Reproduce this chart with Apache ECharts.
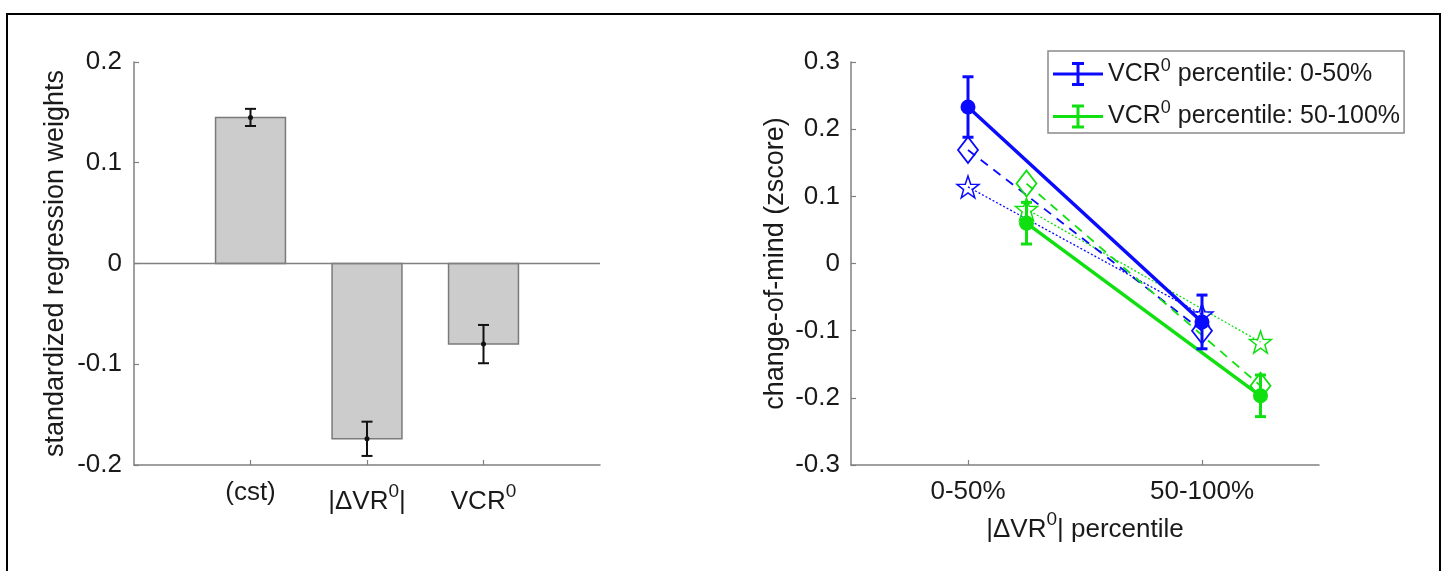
<!DOCTYPE html>
<html><head><meta charset="utf-8">
<script src="https://cdn.jsdelivr.net/npm/echarts@6/dist/echarts.min.js"></script>
<style>html,body{margin:0;padding:0;background:#fff}#c{width:1445px;height:571px}</style>
</head><body><div id="c"></div>
<script>
// ---------- data ----------
const barCategories = ['(cst)', '|\u0394VR^0|', 'VCR^0'];
const barPositions = [1, 2, 3];
const barValues = [0.145, -0.174, -0.080];
const barErrors = [0.0085, 0.017, 0.019];
const leftYTicks = [-0.2, -0.1, 0, 0.1, 0.2];

const rightCategories = ['0-50%', '50-100%'];
const rightCategoryPositions = [1, 2];
const rightYTicks = [-0.3, -0.2, -0.1, 0, 0.1, 0.2, 0.3];
const lowVcrX = [1, 2];
const highVcrX = [1.25, 2.25];
const lowVcrMean = [0.233, -0.087];
const lowVcrErr = [0.045, 0.040];
const lowVcrDiamond = [0.169, -0.100];
const lowVcrStar = [0.114, -0.076];
const highVcrMean = [0.060, -0.197];
const highVcrErr = [0.031, 0.031];
const highVcrDiamond = [0.119, -0.182];
const highVcrStar = [0.081, -0.117];
const legendNames = ['VCR^0 percentile: 0-50%', 'VCR^0 percentile: 50-100%'];
const leftYName = 'standardized regression weights';
const rightYName = 'change-of-mind (zscore)';
const rightXName = '|\u0394VR^0| percentile';

// ---------- style ----------
const FONT = "'Liberation Sans', Arial, sans-serif";
const TXT = '#1a1a1a';
const AX = '#808080';
const BLUE = '#0a0aff';
const GREEN = '#10e010';
const STAR = 'path://M0,-10 L2.35,-3.24 9.51,-3.09 3.80,1.24 5.88,8.09 0,4 -5.88,8.09 -3.80,1.24 -9.51,-3.09 -2.35,-3.24 Z';
const ERRICON = 'path://M0,10.5 H50 V13.5 H0 Z M23.5,0 H26.5 V24 H23.5 Z M19,0 H31 V3 H19 Z M19,21 H31 V24 H19 Z';

function tex(str) {
  if (str.indexOf('^0') < 0) return '{p|' + str + '}';
  return str.split('^0').map(s => '{n|' + s + '}').join('{s|0}');
}
function richFor(size, lh, supSize, supLh) {
  return {
    n: {fontSize: size, fontFamily: FONT, color: TXT, lineHeight: lh},
    p: {fontSize: size, fontFamily: FONT, color: TXT, lineHeight: 22},
    s: {fontSize: supSize, fontFamily: FONT, color: TXT, lineHeight: supLh, verticalAlign: 'top'}
  };
}
const zip = (xs, ys) => xs.map((x, i) => [x, ys[i]]);
const zip3 = (xs, ys, es) => xs.map((x, i) => [x, ys[i], es[i]]);

function errRender(capHalf, lw, color, dot) {
  return function (params, api) {
    const x = api.value(0), y = api.value(1), e = api.value(2);
    const t = api.coord([x, y + e]), b = api.coord([x, y - e]), c = api.coord([x, y]);
    const st = {stroke: color, lineWidth: lw, fill: null};
    const ch = [
      {type: 'line', shape: {x1: t[0], y1: t[1], x2: b[0], y2: b[1]}, style: st},
      {type: 'line', shape: {x1: t[0] - capHalf, y1: t[1], x2: t[0] + capHalf, y2: t[1]}, style: st},
      {type: 'line', shape: {x1: b[0] - capHalf, y1: b[1], x2: b[0] + capHalf, y2: b[1]}, style: st}
    ];
    if (dot) ch.push({type: 'circle', shape: {cx: c[0], cy: c[1], r: 2.5}, style: {fill: color}});
    return {type: 'group', children: ch};
  };
}
function barRender(params, api) {
  const x = api.value(0), v = api.value(1);
  const p0 = api.coord([x - 0.3, v]), p1 = api.coord([x + 0.3, 0]);
  return {type: 'rect', shape: {x: p0[0], y: Math.min(p0[1], p1[1]), width: p1[0] - p0[0], height: Math.abs(p1[1] - p0[1])},
    style: {fill: '#cccccc', stroke: '#7a7a7a', lineWidth: 1.5}};
}
const axisLineStyle = {show: true, onZero: false, lineStyle: {color: AX, width: 1.5}};
const tickStyle = (vals) => ({show: true, inside: true, length: 5, customValues: vals, lineStyle: {color: AX, width: 1.2}});

const chart = echarts.init(document.getElementById('c'), null, {renderer: 'canvas'});
chart.setOption({
  animation: false,
  backgroundColor: '#fff',
  grid: [
    {left: 134, top: 62, width: 466, height: 403},
    {left: 851, top: 62, width: 468, height: 403}
  ],
  xAxis: [
    {gridIndex: 0, type: 'value', min: 0, max: 4, axisLine: axisLineStyle, splitLine: {show: false},
     axisTick: tickStyle(barPositions),
     axisLabel: {customValues: barPositions, margin: 17, formatter: v => tex(barCategories[barPositions.indexOf(v)]),
       rich: richFor(26, 40, 19, 19)}},
    {gridIndex: 1, type: 'value', min: 0.5, max: 2.5, axisLine: axisLineStyle, splitLine: {show: false},
     axisTick: tickStyle(rightCategoryPositions),
     axisLabel: {customValues: rightCategoryPositions, margin: 16, formatter: v => tex(rightCategories[rightCategoryPositions.indexOf(v)]),
       rich: richFor(26, 40, 19, 19)},
     name: tex(rightXName), nameLocation: 'middle', nameGap: 33,
     nameTextStyle: {rich: richFor(26, 40, 19, 19)}}
  ],
  yAxis: [
    {gridIndex: 0, type: 'value', min: -0.2, max: 0.2, interval: 0.1, axisLine: axisLineStyle, splitLine: {show: false},
     axisTick: tickStyle(leftYTicks),
     axisLabel: {customValues: leftYTicks, margin: 12, fontSize: 26, fontFamily: FONT, color: TXT,
       formatter: v => String(Math.round(v * 10) / 10)},
     name: leftYName, nameLocation: 'middle', nameGap: 65, nameRotate: 90,
     nameTextStyle: {fontSize: 27, fontFamily: FONT, color: TXT}},
    {gridIndex: 1, type: 'value', min: -0.3, max: 0.3, interval: 0.1, axisLine: axisLineStyle, splitLine: {show: false},
     axisTick: tickStyle(rightYTicks),
     axisLabel: {customValues: rightYTicks, margin: 11, fontSize: 26, fontFamily: FONT, color: TXT,
       formatter: v => String(Math.round(v * 10) / 10)},
     name: rightYName, nameLocation: 'middle', nameGap: 62, nameRotate: 90,
     nameTextStyle: {fontSize: 27, fontFamily: FONT, color: TXT}}
  ],
  legend: {
    show: true, orient: 'vertical', left: 1048, top: 51,
    padding: [6, 4, 4, 5], itemGap: 13, itemWidth: 50, itemHeight: 24, itemTextGap: 5,
    borderColor: '#8a8a8a', borderWidth: 1.5, backgroundColor: '#fff',
    data: [{name: legendNames[0], icon: ERRICON}, {name: legendNames[1], icon: ERRICON}],
    formatter: name => tex(name),
    textStyle: {rich: {
      n: {fontSize: 25, fontFamily: FONT, color: TXT, lineHeight: 34},
      p: {fontSize: 25, fontFamily: FONT, color: TXT, lineHeight: 34},
      s: {fontSize: 18, fontFamily: FONT, color: TXT, lineHeight: 15, verticalAlign: 'top'}
    }}
  },
  graphic: [
    {type: 'rect', shape: {x: 7, y: 14, width: 1433, height: 620}, style: {fill: null, stroke: '#000', lineWidth: 2}, silent: true}
  ],
  series: [
    // left panel
    {type: 'custom', xAxisIndex: 0, yAxisIndex: 0, renderItem: barRender, data: zip(barPositions, barValues), z: 2},
    {type: 'line', xAxisIndex: 0, yAxisIndex: 0, data: [[0, 0], [4, 0]], symbol: 'none',
     lineStyle: {color: AX, width: 1.5}, z: 3, silent: true},
    {type: 'custom', xAxisIndex: 0, yAxisIndex: 0, renderItem: errRender(5.5, 2, '#111', true),
     data: zip3(barPositions, barValues, barErrors), z: 4},
    // right panel: dotted stars
    {type: 'line', name: 'lowStar', xAxisIndex: 1, yAxisIndex: 1, data: zip(lowVcrX, lowVcrStar),
     symbol: STAR, symbolSize: 22, itemStyle: {color: 'rgba(0,0,0,0)', borderColor: BLUE, borderWidth: 1.5},
     lineStyle: {color: BLUE, width: 1.3, type: [2, 2]}, z: 3},
    {type: 'line', name: 'highStar', xAxisIndex: 1, yAxisIndex: 1, data: zip(highVcrX, highVcrStar),
     symbol: STAR, symbolSize: 22, itemStyle: {color: 'rgba(0,0,0,0)', borderColor: GREEN, borderWidth: 1.5},
     lineStyle: {color: GREEN, width: 1.3, type: [2, 2]}, z: 3},
    // dashed diamonds
    {type: 'line', name: 'lowDiamond', xAxisIndex: 1, yAxisIndex: 1, data: zip(lowVcrX, lowVcrDiamond),
     symbol: 'diamond', symbolSize: [20, 26], itemStyle: {color: 'rgba(0,0,0,0)', borderColor: BLUE, borderWidth: 1.8},
     lineStyle: {color: BLUE, width: 1.8, type: [9, 7]}, z: 3},
    {type: 'line', name: 'highDiamond', xAxisIndex: 1, yAxisIndex: 1, data: zip(highVcrX, highVcrDiamond),
     symbol: 'diamond', symbolSize: [20, 26], itemStyle: {color: 'rgba(0,0,0,0)', borderColor: GREEN, borderWidth: 1.8},
     lineStyle: {color: GREEN, width: 1.8, type: [9, 7]}, z: 3},
    // solid means
    {type: 'line', name: legendNames[0], xAxisIndex: 1, yAxisIndex: 1, data: zip(lowVcrX, lowVcrMean),
     symbol: 'circle', symbolSize: 15, itemStyle: {color: BLUE}, lineStyle: {color: BLUE, width: 3.5}, z: 4},
    {type: 'line', name: legendNames[1], xAxisIndex: 1, yAxisIndex: 1, data: zip(highVcrX, highVcrMean),
     symbol: 'circle', symbolSize: 15, itemStyle: {color: GREEN}, lineStyle: {color: GREEN, width: 3.5}, z: 4},
    {type: 'custom', xAxisIndex: 1, yAxisIndex: 1, renderItem: errRender(5.5, 3, BLUE, false),
     data: zip3(lowVcrX, lowVcrMean, lowVcrErr), z: 5},
    {type: 'custom', xAxisIndex: 1, yAxisIndex: 1, renderItem: errRender(5.5, 3, GREEN, false),
     data: zip3(highVcrX, highVcrMean, highVcrErr), z: 5}
  ]
});
</script></body></html>
